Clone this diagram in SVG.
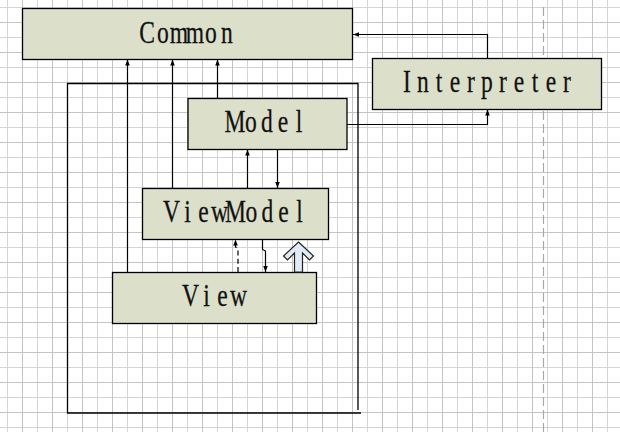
<svg xmlns="http://www.w3.org/2000/svg" width="620" height="432" viewBox="0 0 620 432">
<style>
.node rect{fill:#dcdfca;stroke:#000;stroke-width:1.3}
.node text{font-family:"Liberation Serif","DejaVu Serif",serif;font-size:31px;fill:#111;stroke:#111;stroke-width:0.25;text-anchor:middle}
.conn path{fill:none;stroke:#000;stroke-width:1.2}
.frame{fill:none;stroke:#000;stroke-width:1.3}
</style>
<defs>
<pattern id="grid" patternUnits="userSpaceOnUse" x="7" y="7" width="30" height="30">
<path d="M0.5,0V30M0,0.5H30" stroke="#d4d4d4" stroke-width="1" fill="none"/>
<path d="M15.5,0V30M0,15.5H30" stroke="#c4c4c4" stroke-width="1" fill="none"/>
</pattern>
<marker id="arr" viewBox="0 0 10 10" refX="10" refY="5" markerWidth="6" markerHeight="6" markerUnits="userSpaceOnUse" orient="auto">
<path d="M0,1.2L10,5L0,8.8z" fill="#000"/>
</marker>
</defs>
<rect width="620" height="432" fill="#fff"/>
<rect width="620" height="432" fill="url(#grid)"/>
<line x1="543.5" y1="7" x2="543.5" y2="432" stroke="#a8a8a8" stroke-width="1.2" stroke-dasharray="9 4"/>
<g id="container">
<path class="frame" d="M358,410V83.5H67.5V413H361"/>
</g>
<g id="common" class="node">
<rect x="22.5" y="8.5" width="330" height="51"/>
<text transform="scale(0.76 1)" x="193.42 214.47 235.53 256.58 277.63 298.68" y="43">Common</text>
</g>
<g id="interpreter" class="node">
<rect x="372.5" y="58.5" width="229" height="51"/>
<text transform="scale(0.76 1)" x="535.53 556.58 577.63 598.68 619.74 640.79 661.84 682.89 703.95 725 746.05" y="92">Interpreter</text>
</g>
<g id="model" class="node">
<rect x="188" y="98.5" width="159" height="51"/>
<text transform="scale(0.76 1)" x="309.21 330.26 351.32 372.37 393.42" y="132">Model</text>
</g>
<g id="viewmodel" class="node">
<rect x="142.5" y="188.5" width="186" height="51"/>
<text transform="scale(0.76 1)" x="225.66 246.71 267.76 288.82 309.87 330.92 351.97 373.03 394.08" y="222">ViewModel</text>
</g>
<g id="view" class="node">
<rect x="112.5" y="272.5" width="204" height="51"/>
<text transform="scale(0.76 1)" x="250.66 271.71 292.76 313.82" y="306">View</text>
</g>
<g id="connectors" class="conn">
<path d="M127.5,272V59.5" marker-end="url(#arr)"/>
<path d="M172.5,188V59.5" marker-end="url(#arr)"/>
<path d="M217.5,98V59.5" marker-end="url(#arr)"/>
<path d="M347,124.5H487.5V109.5" marker-end="url(#arr)"/>
<path d="M487.5,58V34.5H353" marker-end="url(#arr)"/>
<path d="M247.5,188V149.5" marker-end="url(#arr)"/>
<path d="M277.5,149.5V188" marker-end="url(#arr)"/>
<path d="M238,272V249L235.5,247V239.5" stroke-dasharray="5 3.3" marker-end="url(#arr)"/>
<path d="M262.5,239.5V249.5L265.5,251V272" marker-end="url(#arr)"/>
<polygon points="298.5,242 313.5,256 309.5,260 302.5,253 302.5,272 294.5,272 294.5,253 287.5,260 283.5,256" fill="#e2eaf5" stroke="#222" stroke-width="1.2"/>
</g>
</svg>
